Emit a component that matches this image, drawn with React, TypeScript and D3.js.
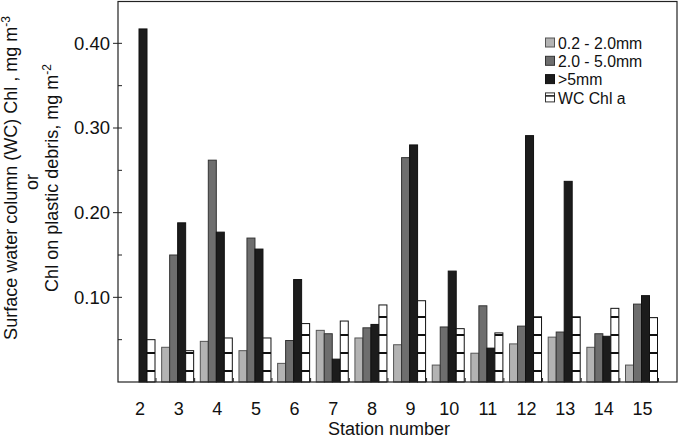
import React from "react";
import * as d3 from "d3";

const stations = [2, 3, 4, 5, 6, 7, 8, 9, 10, 11, 12, 13, 14, 15];
const small = [0, 0.041, 0.048, 0.037, 0.022, 0.061, 0.052, 0.044, 0.02, 0.034, 0.045, 0.053, 0.041, 0.02];
const medium = [0, 0.15, 0.262, 0.17, 0.049, 0.057, 0.064, 0.265, 0.065, 0.09, 0.066, 0.059, 0.057, 0.092];
const large = [0.417, 0.188, 0.177, 0.157, 0.121, 0.027, 0.068, 0.28, 0.131, 0.04, 0.291, 0.237, 0.054, 0.102];
const wcChl = [0.05, 0.037, 0.052, 0.052, 0.069, 0.072, 0.091, 0.096, 0.063, 0.058, 0.077, 0.077, 0.087, 0.076];
const yMajor = [0.1, 0.2, 0.3, 0.4];
const yMinor = [0.05, 0.1, 0.15, 0.2, 0.25, 0.3, 0.35, 0.4];
const legendLabels = ["0.2 - 2.0mm", "2.0 - 5.0mm", ">5mm", "WC Chl a"];

const FONT = "'Liberation Sans', Arial, Helvetica, sans-serif";

export default function App() {
  const left = 118, right = 677, top = 1.5, bottom = 382;
  const y = d3.scaleLinear().domain([0, 0.45]).range([bottom, 1]);
  const x = d3.scaleLinear().domain([2, 15]).range([139, 641.5]);
  const bw = 8;
  const series = [
    { vals: small, fill: "#b3b3b3", stroke: "#555", off: -16 },
    { vals: medium, fill: "#6e6e6e", stroke: "#333", off: -8 },
    { vals: large, fill: "#1c1c1c", stroke: "#111", off: 0 },
    { vals: wcChl, fill: "url(#wcp)", stroke: "#111", off: 8 },
  ];
  const legendFills = ["#b3b3b3", "#6e6e6e", "#1c1c1c", "#fff"];
  const legendStrokes = ["#555", "#333", "#111", "#333"];

  return (
    <svg width={680} height={437} style={{ position: "absolute", left: 0, top: 0, background: "#fff" }} fontFamily={FONT}>
      <defs>
        <pattern id="wcp" patternUnits="userSpaceOnUse" x={0} y={370} width={10} height={18}>
          <rect x={0} y={0} width={10} height={18} fill="#fff" />
          <rect x={0} y={0} width={10} height={2} fill="#111" />
        </pattern>
      </defs>
      <rect x={0} y={0} width={680} height={437} fill="#fff" />
      {series.map((s, si) =>
        stations.map((st, i) =>
          s.vals[i] > 0 ? (
            <rect
              key={`${si}-${st}`}
              x={x(st) + s.off}
              y={y(s.vals[i])}
              width={bw}
              height={bottom - y(s.vals[i])}
              fill={s.fill}
              stroke={s.stroke}
              strokeWidth={1}
            />
          ) : null
        )
      )}
      {stations.map((st) => (
        <line key={`xt${st}`} x1={x(st) + 17} x2={x(st) + 17} y1={bottom} y2={bottom - 4} stroke="#222" strokeWidth={1} />
      ))}
      <rect x={left} y={top} width={right - left} height={bottom - top} fill="none" stroke="#222" strokeWidth={1.2} />
      {yMajor.map((v) => (
        <g key={`ym${v}`}>
          <line x1={left - 5} x2={left} y1={y(v)} y2={y(v)} stroke="#222" strokeWidth={1} />
          <text x={110} y={y(v)} dy="0.35em" textAnchor="end" fontSize={18.5} fill="#111">
            {v.toFixed(2)}
          </text>
        </g>
      ))}
      {yMinor.map((v) => (
        <line key={`yn${v}`} x1={left} x2={left + 4} y1={y(v)} y2={y(v)} stroke="#222" strokeWidth={1} />
      ))}
      {stations.map((st) => (
        <text key={`xl${st}`} x={x(st) + 1} y={414.5} textAnchor="middle" fontSize={18} fill="#111">
          {st}
        </text>
      ))}
      <text x={389} y={434.5} textAnchor="middle" fontSize={18} fill="#111">
        Station number
      </text>
      <g fontSize={18} fill="#111">
        <text transform="translate(16.5,178) rotate(-90)" textAnchor="middle">
          Surface water column (WC) Chl , mg m<tspan fontSize={12} dy={-7}>-3</tspan>
        </text>
        <text transform="translate(37.5,182) rotate(-90)" textAnchor="middle">or</text>
        <text transform="translate(58,178) rotate(-90)" textAnchor="middle">
          Chl on plastic debris, mg m<tspan fontSize={12} dy={-7}>-2</tspan>
        </text>
      </g>
      {legendLabels.map((lab, i) => {
        const cy = 43 + i * 18.3;
        return (
          <g key={lab}>
            <rect x={545.5} y={cy - 5} width={9} height={9} fill={legendFills[i]} stroke={legendStrokes[i]} strokeWidth={1} />
            {i === 3 ? <line x1={545.5} x2={554.5} y1={cy - 2} y2={cy - 2} stroke="#111" strokeWidth={1.5} /> : null}
            <text x={558} y={cy + 5.8} fontSize={15.8} fill="#111">
              {lab}
            </text>
          </g>
        );
      })}
    </svg>
  );
}
